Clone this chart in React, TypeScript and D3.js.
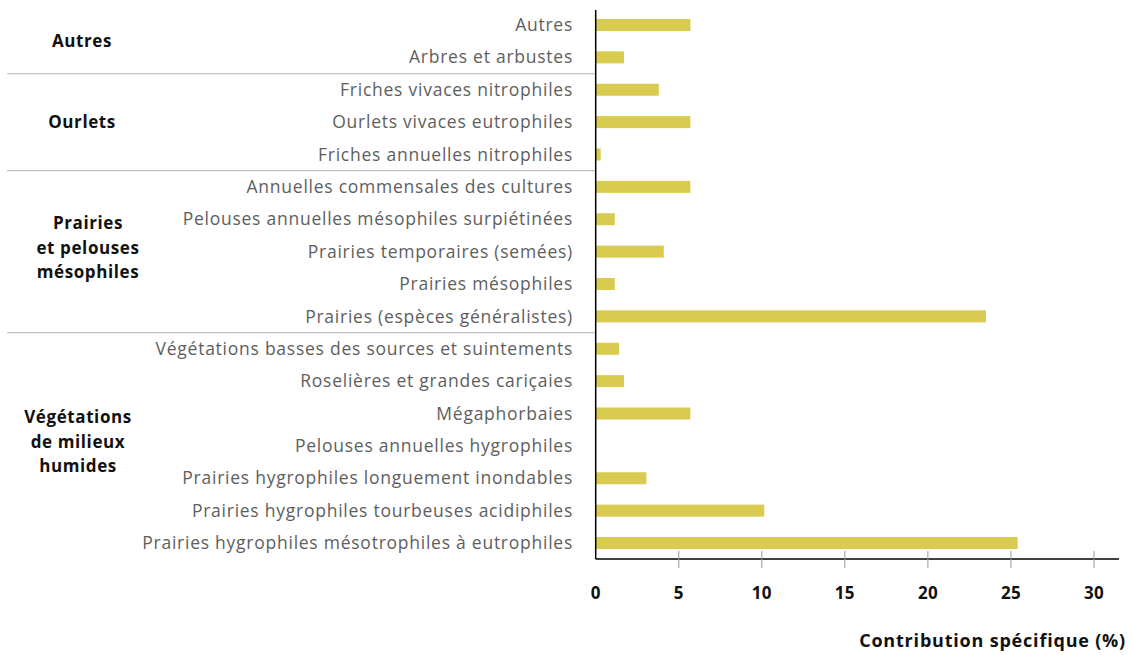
import React from "react";
import * as d3 from "d3";

const categories = [
  "Autres",
  "Arbres et arbustes",
  "Friches vivaces nitrophiles",
  "Ourlets vivaces eutrophiles",
  "Friches annuelles nitrophiles",
  "Annuelles commensales des cultures",
  "Pelouses annuelles mésophiles surpiétinées",
  "Prairies temporaires (semées)",
  "Prairies mésophiles",
  "Prairies (espèces généralistes)",
  "Végétations basses des sources et suintements",
  "Roselières et grandes cariçaies",
  "Mégaphorbaies",
  "Pelouses annuelles hygrophiles",
  "Prairies hygrophiles longuement inondables",
  "Prairies hygrophiles tourbeuses acidiphiles",
  "Prairies hygrophiles mésotrophiles à eutrophiles",
];

const values = [5.7, 1.7, 3.8, 5.7, 0.3, 5.7, 1.15, 4.1, 1.15, 23.5, 1.4, 1.7, 5.7, 0, 3.05, 10.15, 25.4];

const groupNames = [["Autres"], ["Ourlets"], ["Prairies", "et pelouses", "mésophiles"], ["Végétations", "de milieux", "humides"]];
const groupStart = [0, 2, 5, 10];
const groupEnd = [1, 4, 9, 16];

const xTicks = [0, 5, 10, 15, 20, 25, 30];
const xTitle = "Contribution spécifique (%)";

const FONT = "'Open Sans', 'Noto Sans', sans-serif";

export default function App() {
  const x = d3.scaleLinear().domain([0, 30]).range([595.7, 1094]);
  const y = d3.scaleBand<string>().domain(categories).range([8.8, 559.2]).paddingInner(0.63).paddingOuter(0.315);
  const axisY = 559;
  const axisX = x(0);
  const bw = y.bandwidth();
  const center = (c: string) => (y(c) as number) + bw / 2;
  const step = y.step();

  return (
    <svg width={1132} height={655} style={{ position: "absolute", left: 0, top: 0, display: "block", background: "#fff" }}>
      {groupStart.slice(1).map((s, i) => {
        const yy = center(categories[s]) - step / 2;
        return <line key={"sep" + i} x1={7} x2={axisX} y1={yy} y2={yy} stroke="#c4c4c4" strokeWidth={1.2} />;
      })}
      {categories.map((c, i) =>
        values[i] > 0 ? (
          <rect key={c} x={axisX} y={center(c) - 6} width={x(values[i]) - x(0)} height={12} fill="#d8cb4f" />
        ) : null
      )}
      {categories.map((c) => (
        <text key={"l" + c} x={573} y={center(c)} dy="0.35em" textAnchor="end" fontFamily={FONT} fontSize={17.5} letterSpacing={0.75} fill="#5e5e5e">
          {c}
        </text>
      ))}
      {groupNames.map((lines, gi) => {
        const mid = (center(categories[groupStart[gi]]) + center(categories[groupEnd[gi]])) / 2 - (lines.length > 1 ? 4 : 0);
        const lh = 24.5;
        return (
          <text key={"g" + gi} textAnchor="middle" fontFamily={FONT} fontWeight={700} fontSize={17} letterSpacing={0.6} fill="#111">
            {lines.map((ln, li) => (
              <tspan key={li} x={gi === 3 ? 78 : gi === 2 ? 88 : 82} y={mid + (li - (lines.length - 1) / 2) * lh} dy="0.35em">
                {ln}
              </tspan>
            ))}
          </text>
        );
      })}
      <line x1={axisX} x2={axisX} y1={10} y2={axisY} stroke="#000" strokeWidth={1.5} />
      <line x1={axisX} x2={1119} y1={axisY} y2={axisY} stroke="#000" strokeWidth={1.3} />
      {xTicks.map((t) => (
        <g key={"t" + t}>
          {t > 0 ? <line x1={x(t)} x2={x(t)} y1={axisY - 8} y2={axisY + 9} stroke="#999" strokeWidth={1} /> : null}
          <text x={x(t)} y={593} dy="0.35em" textAnchor="middle" fontFamily={FONT} fontWeight={700} fontSize={17} letterSpacing={0.3} fill="#111">
            {t}
          </text>
        </g>
      ))}
      <text x={1126} y={641} dy="0.35em" textAnchor="end" fontFamily={FONT} fontWeight={700} fontSize={18} letterSpacing={0.8} fill="#111">
        {xTitle}
      </text>
    </svg>
  );
}
